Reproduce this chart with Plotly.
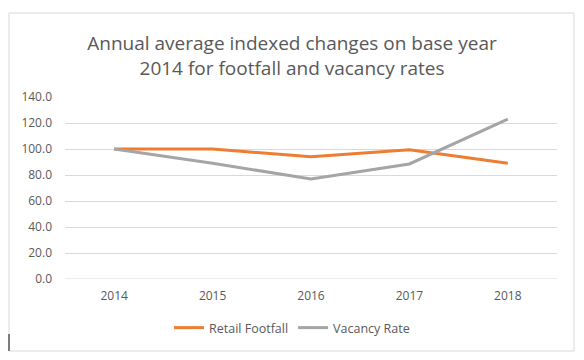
import plotly.graph_objects as go

years = ["2014", "2015", "2016", "2017", "2018"]
retail_footfall = [100.0, 100.0, 94.0, 99.5, 89.0]
vacancy_rate = [100.0, 89.0, 77.0, 88.5, 123.0]
y_ticks = [0, 20, 40, 60, 80, 100, 120, 140]
y_tick_labels = ["0.0", "20.0", "40.0", "60.0", "80.0", "100.0", "120.0", "140.0"]

# page has an 8px body margin; lay out in page coordinates, then shift
OFF = 8
W, H = 584 - OFF, 360 - OFF
PL, PR, PT, PB = 65, 557, 97, 279   # plot area in page pixels
L, T = PL - OFF, PT - OFF
R = W - (PR - OFF)
B = H - (PB - OFF)
pw, ph = PR - PL, PB - PT

def px_x(x):
    return (x - PL) / pw

def px_y(y):
    return (PB - y) / ph

FONT = "Open Sans"
TXT = "#595959"

fig = go.Figure()
fig.add_trace(go.Scatter(x=years, y=retail_footfall, mode="lines", name="Retail Footfall",
                         line=dict(color="#ED7D31", width=3)))
fig.add_trace(go.Scatter(x=years, y=vacancy_rate, mode="lines", name="Vacancy Rate",
                         line=dict(color="#A5A5A5", width=3)))

fig.update_layout(
    width=W, height=H,
    margin=dict(l=L, r=R, t=T, b=B),
    paper_bgcolor="white", plot_bgcolor="white",
    font=dict(family=FONT, color=TXT, size=11),
    title=dict(text="Annual average indexed changes on base year<br>2014 for footfall and vacancy rates",
               x=px_x(292), xref="paper", xanchor="center",
               y=(H - (50 - OFF)) / H, yref="container", yanchor="middle",
               font=dict(family=FONT, size=19, color=TXT)),
    xaxis=dict(type="category", range=[-0.5, 4.5], showgrid=False, showline=False, zeroline=False,
               ticks="", tickfont=dict(size=12, color=TXT), ticklabelstandoff=8),
    yaxis=dict(range=[0, 140], tickvals=y_ticks, ticktext=y_tick_labels,
               showgrid=True, gridcolor="#D9D9D9", gridwidth=1,
               zeroline=False, showline=False, ticks="",
               tickfont=dict(size=12, color=TXT), ticklabelstandoff=12),
    legend=dict(orientation="h", x=px_x(292), xanchor="center", y=px_y(328), yanchor="middle",
                font=dict(size=12.5, color=TXT), bgcolor="rgba(0,0,0,0)"),
    showlegend=True,
    shapes=[
        dict(type="rect", xref="paper", yref="paper",
             x0=px_x(9), x1=px_x(574), y0=px_y(351), y1=px_y(13),
             line=dict(color="#D9D9D9", width=1), fillcolor="rgba(0,0,0,0)", layer="below"),
        dict(type="line", xref="paper", yref="paper",
             x0=px_x(9), x1=px_x(9), y0=px_y(351), y1=px_y(334),
             line=dict(color="#595959", width=1.5)),
        dict(type="line", xref="paper", yref="y",
             x0=0, x1=1, y0=0, y1=0,
             line=dict(color="#D9D9D9", width=1), layer="below"),
    ],
)

fig.write_html("out.html")
